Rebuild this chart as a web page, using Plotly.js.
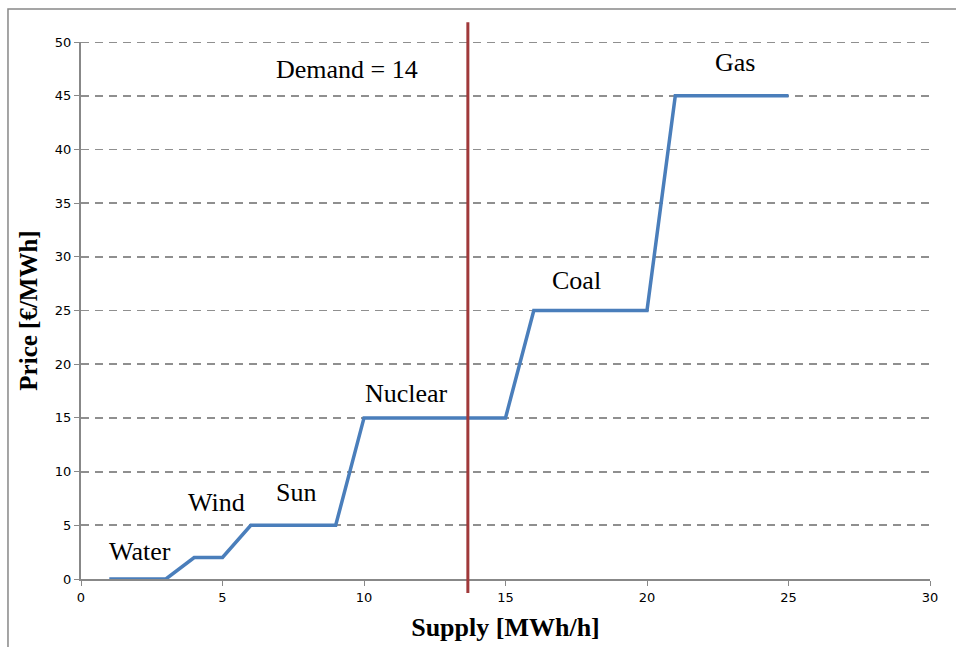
<!DOCTYPE html>
<html><head><meta charset="utf-8">
<script src="https://cdn.plot.ly/plotly-3.0.1.min.js"></script>
<style>body{margin:0;background:#fff}#c{width:956px;height:647px}</style>
</head><body><div id="c"></div>
<script>
const supply = [1, 3, 4, 5, 6, 9, 10, 15, 16, 20, 21, 25];
const price  = [0, 0, 2, 2, 5, 5, 15, 15, 25, 25, 45, 45];
const demandX = 13.67;
const labelText = ["Demand = 14", "Gas", "Coal", "Nuclear", "Sun", "Wind", "Water"];
const labelX = [9.4, 23.1, 17.5, 11.5, 7.6, 4.8, 2.1];
const labelY = [47.4, 48.1, 27.8, 17.3, 8.1, 7.1, 2.6];
const xTicks = [0, 5, 10, 15, 20, 25, 30];
const yTicks = [0, 5, 10, 15, 20, 25, 30, 35, 40, 45, 50];

const traces = [{
  x: supply, y: price, type: 'scatter', mode: 'lines',
  line: {color: '#4a7ebb', width: 3.5}, hoverinfo: 'skip'
}];

const annotations = labelText.map((t, i) => ({
  x: labelX[i], y: labelY[i], xref: 'x', yref: 'y', text: t, showarrow: false,
  font: {family: 'Liberation Serif', size: 26, color: '#000'}
}));

const layout = {
  width: 956, height: 647,
  margin: {l: 81, r: 26, t: 42, b: 68},
  paper_bgcolor: '#fff', plot_bgcolor: '#fff',
  showlegend: false,
  xaxis: {
    range: [0, 30], tickvals: xTicks, ticktext: xTicks.map(String),
    showgrid: false, zeroline: false, showline: true, linecolor: '#888', linewidth: 2,
    ticks: 'outside', ticklen: 5, tickcolor: '#888', tickwidth: 1,
    tickfont: {family: 'DejaVu Sans', size: 13, color: '#000'},
    title: {text: '<b>Supply [MWh/h]</b>', font: {family: 'Liberation Serif', size: 26, color: '#000'}, standoff: 14}
  },
  yaxis: {
    range: [0, 50], tickvals: yTicks, ticktext: yTicks.map(String),
    showgrid: true, gridcolor: '#8f8f8f', griddash: '8px,6px', gridwidth: 1.8,
    zeroline: false, showline: true, linecolor: '#888', linewidth: 2,
    ticks: 'outside', ticklen: 5, tickcolor: '#888', tickwidth: 1,
    tickfont: {family: 'DejaVu Sans', size: 13, color: '#000'},
    title: {text: '<b>Price [€/MWh]</b>', font: {family: 'Liberation Serif', size: 25, color: '#000'}, standoff: 10}
  },
  annotations: annotations,
  shapes: [
    {type: 'line', xref: 'paper', yref: 'y', x0: 0, x1: 1, y0: yTicks[yTicks.length - 1], y1: yTicks[yTicks.length - 1],
     line: {color: '#8f8f8f', width: 1.8, dash: '8px,6px'}, layer: 'below'},
    {type: 'line', xref: 'x', yref: 'paper', x0: demandX, x1: demandX, y0: -0.026, y1: 1.037,
     line: {color: '#a0393a', width: 3}},
    {type: 'rect', xref: 'paper', yref: 'paper', x0: -0.086, x1: 1.04, y0: -0.14, y1: 1.0615,
     line: {color: '#888', width: 1.5}, fillcolor: 'rgba(0,0,0,0)'}
  ]
};

Plotly.newPlot('c', traces, layout, {displayModeBar: false, staticPlot: true});
</script>
</body></html>
